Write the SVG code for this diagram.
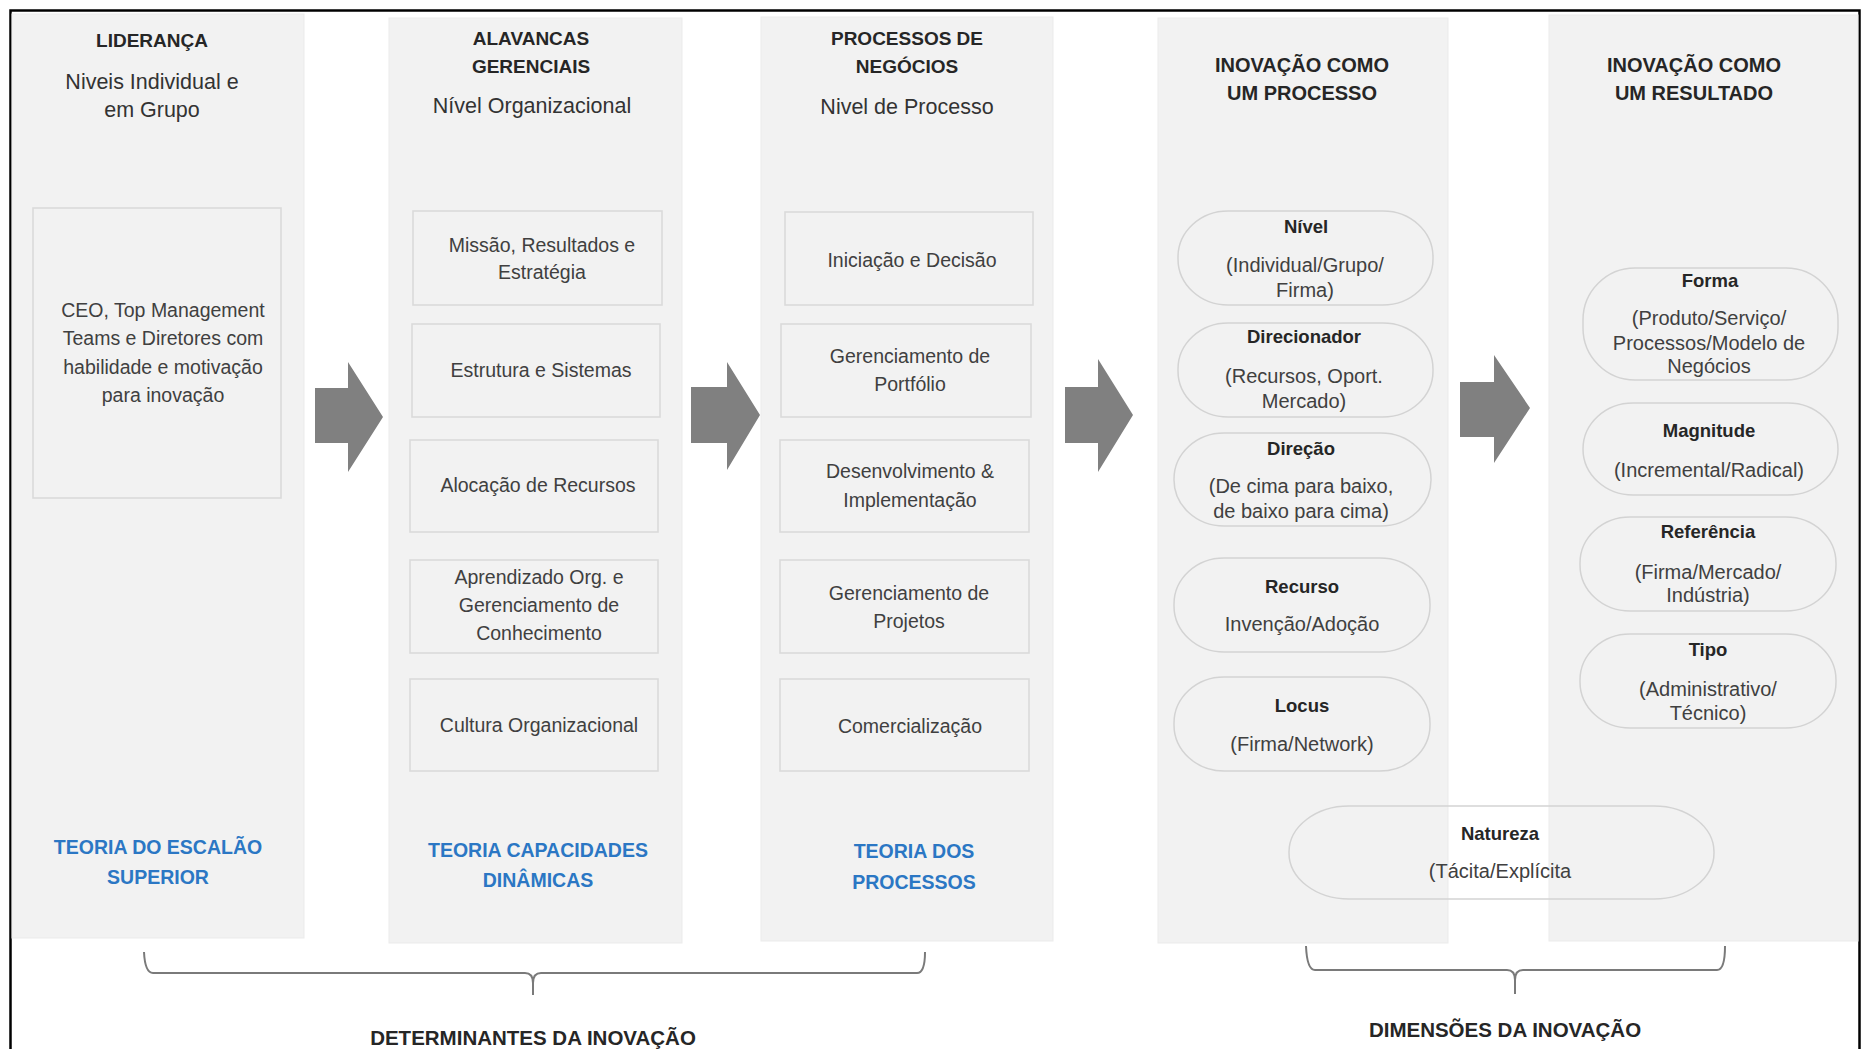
<svg xmlns="http://www.w3.org/2000/svg" width="1861" height="1049" viewBox="0 0 1861 1049">
<defs>
<style>
text{font-family:"Liberation Sans",Arial,sans-serif;text-anchor:middle}
.col{fill:#f2f2f2;stroke:#ebebeb;stroke-width:1}
.box{fill:#f2f2f2;stroke:#d9d9d9;stroke-width:1.5}
.pill{fill:none;stroke:#d3d3d3;stroke-width:1.5}
.t{font-size:19px;font-weight:bold;fill:#262626}
.t2{font-size:20px;font-weight:bold;fill:#262626}
.sub{font-size:21.5px;fill:#333333}
.bx{font-size:19.5px;fill:#404040}
.pl{font-size:18.5px;font-weight:bold;fill:#262626}
.pt{font-size:20px;fill:#404040}
.blue{font-size:19.5px;font-weight:bold;fill:#2b77c4}
.lbl{font-size:20.5px;font-weight:bold;fill:#262626}
.arr{fill:#808080}
.brace{fill:none;stroke:#7a7a7a;stroke-width:2}
</style>
</defs>
<rect width="1861" height="1049" fill="#ffffff"/>
<path d="M10.5,1060 V10.5 H1859.5 V1060" fill="none" stroke="#000000" stroke-width="2.5"/>

<g id="col-lideranca">
<rect class="col" x="12" y="14" width="292" height="924"/>
<text class="t" x="152" y="47">LIDERANÇA</text>
<text class="sub" x="152" y="89">Niveis Individual e</text>
<text class="sub" x="152" y="117">em Grupo</text>
<g id="box-ceo">
<rect class="box" x="33" y="208" width="248" height="290"/>
<text class="bx" x="163" y="317">CEO, Top Management</text>
<text class="bx" x="163" y="345">Teams e Diretores com</text>
<text class="bx" x="163" y="374">habilidade e motivação</text>
<text class="bx" x="163" y="402">para inovação</text>
</g>
<text class="blue" x="158" y="854">TEORIA DO ESCALÃO</text>
<text class="blue" x="158" y="884">SUPERIOR</text>
</g>

<g id="col-alavancas">
<rect class="col" x="389" y="18" width="293" height="925"/>
<text class="t" x="531" y="45">ALAVANCAS</text>
<text class="t" x="531" y="73">GERENCIAIS</text>
<text class="sub" x="532" y="113">Nível Organizacional</text>
<g id="box-missao"><rect class="box" x="413" y="211" width="249" height="94"/>
<text class="bx" x="542" y="252">Missão, Resultados e</text>
<text class="bx" x="542" y="279">Estratégia</text></g>
<g id="box-estrutura"><rect class="box" x="412" y="324" width="248" height="93"/>
<text class="bx" x="541" y="377">Estrutura e Sistemas</text></g>
<g id="box-alocacao"><rect class="box" x="410" y="440" width="248" height="92"/>
<text class="bx" x="538" y="492">Alocação de Recursos</text></g>
<g id="box-aprendizado"><rect class="box" x="410" y="560" width="248" height="93"/>
<text class="bx" x="539" y="584">Aprendizado Org. e</text>
<text class="bx" x="539" y="612">Gerenciamento de</text>
<text class="bx" x="539" y="640">Conhecimento</text></g>
<g id="box-cultura"><rect class="box" x="410" y="679" width="248" height="92"/>
<text class="bx" x="539" y="732">Cultura Organizacional</text></g>
<text class="blue" x="538" y="857">TEORIA CAPACIDADES</text>
<text class="blue" x="538" y="887">DINÂMICAS</text>
</g>

<g id="col-processos">
<rect class="col" x="761" y="17" width="292" height="924"/>
<text class="t" x="907" y="45">PROCESSOS DE</text>
<text class="t" x="907" y="73">NEGÓCIOS</text>
<text class="sub" x="907" y="114">Nivel de Processo</text>
<g id="box-iniciacao"><rect class="box" x="785" y="212" width="248" height="93"/>
<text class="bx" x="912" y="267">Iniciação e Decisão</text></g>
<g id="box-portfolio"><rect class="box" x="781" y="324" width="250" height="93"/>
<text class="bx" x="910" y="363">Gerenciamento de</text>
<text class="bx" x="910" y="391">Portfólio</text></g>
<g id="box-desenvolvimento"><rect class="box" x="780" y="440" width="249" height="92"/>
<text class="bx" x="910" y="478">Desenvolvimento &amp;</text>
<text class="bx" x="910" y="507">Implementação</text></g>
<g id="box-projetos"><rect class="box" x="780" y="560" width="249" height="93"/>
<text class="bx" x="909" y="600">Gerenciamento de</text>
<text class="bx" x="909" y="628">Projetos</text></g>
<g id="box-comercializacao"><rect class="box" x="780" y="679" width="249" height="92"/>
<text class="bx" x="910" y="733">Comercialização</text></g>
<text class="blue" x="914" y="858">TEORIA DOS</text>
<text class="blue" x="914" y="889">PROCESSOS</text>
</g>

<g id="col-inovacao-processo">
<rect class="col" x="1158" y="18" width="290" height="925"/>
<text class="t2" x="1302" y="72">INOVAÇÃO COMO</text>
<text class="t2" x="1302" y="100">UM PROCESSO</text>
<g id="pill-nivel"><rect class="pill" x="1178" y="211" width="255" height="94" rx="50" ry="46"/>
<text class="pl" x="1306" y="233">Nível</text>
<text class="pt" x="1305" y="272">(Individual/Grupo/</text>
<text class="pt" x="1305" y="297">Firma)</text></g>
<g id="pill-direcionador"><rect class="pill" x="1178" y="323" width="255" height="94" rx="50" ry="46"/>
<text class="pl" x="1304" y="343">Direcionador</text>
<text class="pt" x="1304" y="383">(Recursos, Oport.</text>
<text class="pt" x="1304" y="408">Mercado)</text></g>
<g id="pill-direcao"><rect class="pill" x="1174" y="433" width="257" height="93" rx="50" ry="46"/>
<text class="pl" x="1301" y="455">Direção</text>
<text class="pt" x="1301" y="493">(De cima para baixo,</text>
<text class="pt" x="1301" y="518">de baixo para cima)</text></g>
<g id="pill-recurso"><rect class="pill" x="1174" y="558" width="256" height="94" rx="50" ry="46"/>
<text class="pl" x="1302" y="593">Recurso</text>
<text class="pt" x="1302" y="631">Invenção/Adoção</text></g>
<g id="pill-locus"><rect class="pill" x="1174" y="677" width="256" height="94" rx="50" ry="46"/>
<text class="pl" x="1302" y="712">Locus</text>
<text class="pt" x="1302" y="751">(Firma/Network)</text></g>
</g>

<g id="col-inovacao-resultado">
<rect class="col" x="1549" y="15" width="309" height="926"/>
<text class="t2" x="1694" y="72">INOVAÇÃO COMO</text>
<text class="t2" x="1694" y="100">UM RESULTADO</text>
<g id="pill-forma"><rect class="pill" x="1583" y="268" width="255" height="112" rx="52" ry="52"/>
<text class="pl" x="1710" y="287">Forma</text>
<text class="pt" x="1709" y="325">(Produto/Serviço/</text>
<text class="pt" x="1709" y="350">Processos/Modelo de</text>
<text class="pt" x="1709" y="373">Negócios</text></g>
<g id="pill-magnitude"><rect class="pill" x="1583" y="403" width="255" height="92" rx="50" ry="46"/>
<text class="pl" x="1709" y="437">Magnitude</text>
<text class="pt" x="1709" y="477">(Incremental/Radical)</text></g>
<g id="pill-referencia"><rect class="pill" x="1580" y="517" width="256" height="94" rx="50" ry="46"/>
<text class="pl" x="1708" y="538">Referência</text>
<text class="pt" x="1708" y="579">(Firma/Mercado/</text>
<text class="pt" x="1708" y="602">Indústria)</text></g>
<g id="pill-tipo"><rect class="pill" x="1580" y="634" width="256" height="94" rx="50" ry="46"/>
<text class="pl" x="1708" y="656">Tipo</text>
<text class="pt" x="1708" y="696">(Administrativo/</text>
<text class="pt" x="1708" y="720">Técnico)</text></g>
</g>

<g id="pill-natureza">
<rect class="pill" x="1289" y="806" width="425" height="93" rx="60" ry="46"/>
<text class="pl" x="1500" y="840">Natureza</text>
<text class="pt" x="1500" y="878">(Tácita/Explícita</text>
</g>

<g id="connectors">
<polygon class="arr" points="315,388 348,388 348,362 383,417 348,472 348,443 315,443"/>
<polygon class="arr" points="691,387 727,387 727,362 760,415 727,470 727,443 691,443"/>
<polygon class="arr" points="1065,387 1098,387 1098,359 1133,415 1098,472 1098,443 1065,443"/>
<polygon class="arr" points="1460,382 1494,382 1494,355 1530,408 1494,463 1494,437 1460,437"/>
<path class="brace" d="M144,952 Q145,973 153,973 L525,973 Q533,973 533,983 L533,995 M533,983 Q533,973 541,973 L917,973 Q925,973 925,952"/>
<path class="brace" d="M1306,946 Q1307,970 1315,970 L1507,970 Q1515,970 1515,980 L1515,994 M1515,980 Q1515,970 1523,970 L1717,970 Q1725,970 1725,946"/>
</g>

<g id="labels">
<text class="lbl" x="533" y="1045">DETERMINANTES DA INOVAÇÃO</text>
<text class="lbl" x="1505" y="1037">DIMENSÕES DA INOVAÇÃO</text>
</g>
</svg>
